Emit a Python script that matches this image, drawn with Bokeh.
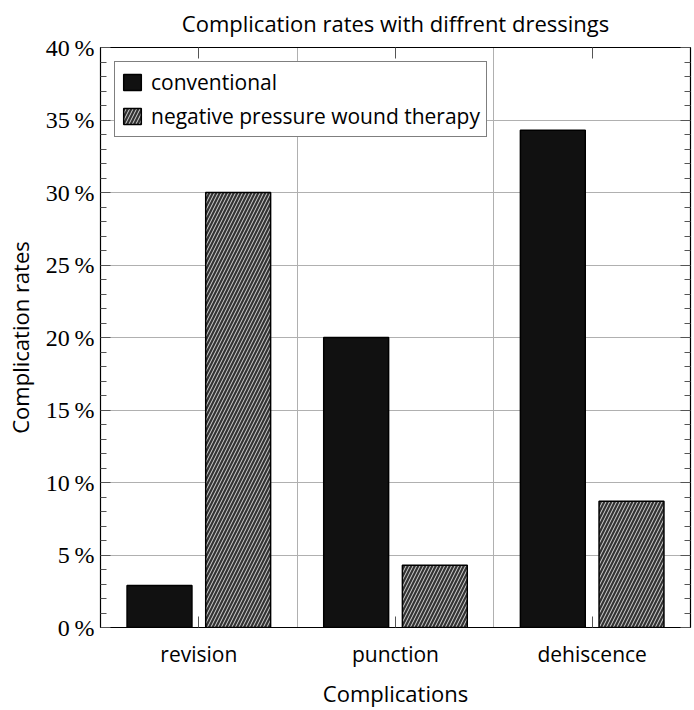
from bokeh.plotting import figure
from bokeh.models import (Range1d, FixedTicker, LinearAxis, Legend, LegendItem,
                          Grid, CustomJSTickFormatter)
from bokeh.embed import file_html
from bokeh.resources import INLINE

# ---- data ----
categories = ["revision", "punction", "dehiscence"]
conventional = [2.9, 20.0, 34.3]
npwt = [30.0, 4.3, 8.7]
series_names = ["conventional", "negative pressure wound therapy"]
y_ticks = [0, 5, 10, 15, 20, 25, 30, 35, 40]
y_tick_labels = ["0\u2009%", "5\u2009%", "10\u2009%", "15\u2009%", "20\u2009%",
                 "25\u2009%", "30\u2009%", "35\u2009%", "40\u2009%"]
title_text = "Complication rates with diffrent dressings"
x_label = "Complications"
y_label = "Complication rates"

SANS = "Open Sans"
SERIF = "Liberation Serif"

idx = list(range(len(categories)))
offset = 0.2
bar_w = 0.33
x_conv = [i - offset for i in idx]
x_npwt = [i + offset for i in idx]

p = figure(width=694, height=710, output_backend="svg", toolbar_location=None,
           x_range=Range1d(-0.5, 2.5), y_range=Range1d(0, 40),
           x_axis_location=None, y_axis_location=None)
p.min_border_left = 100
p.min_border_right = 4
p.min_border_top = 47
p.min_border_bottom = 71
p.outline_line_color = "black"
p.outline_line_width = 1.2

# grids
p.grid.visible = False
p.add_layout(Grid(dimension=1, ticker=FixedTicker(ticks=y_ticks[1:-1]),
                  grid_line_color="#b0b0b0", grid_line_width=1))
p.add_layout(Grid(dimension=0, ticker=FixedTicker(ticks=[0.5, 1.5]),
                  grid_line_color="#b0b0b0", grid_line_width=1))

# bars
r_conv = p.vbar(x=x_conv, top=conventional, width=bar_w, bottom=0,
                fill_color="#111111", line_color="black", line_width=1.5)
r_npwt_fill = p.vbar(x=x_npwt, top=npwt, width=bar_w, bottom=0,
                     fill_color="#333333", line_color=None)
r_npwt = p.vbar(x=x_npwt, top=npwt, width=bar_w, bottom=0,
                fill_alpha=0, line_color="black", line_width=1.5,
                hatch_pattern="/", hatch_color="white", hatch_weight=0.8,
                hatch_scale=7)

minor = [v for v in range(0, 41) if v % 5 != 0]
yt = FixedTicker(ticks=y_ticks, minor_ticks=minor)

left = LinearAxis(ticker=yt, axis_label=y_label)
left.major_label_overrides = {t: l for t, l in zip(y_ticks, y_tick_labels)}
right = LinearAxis(ticker=yt, formatter=CustomJSTickFormatter(code="return ''"))
for ax in (left, right):
    ax.major_tick_in = 10
    ax.major_tick_out = 0
    ax.minor_tick_in = 6
    ax.minor_tick_out = 0
    ax.axis_line_color = "black"
    ax.major_tick_line_color = "#555555"
    ax.minor_tick_line_color = "#555555"
left.major_label_text_font = SERIF
left.major_label_text_font_size = "24px"
left.major_label_text_color = "black"
left.major_label_standoff = 6
left.axis_label_text_font = SANS
left.axis_label_text_font_size = "22px"
left.axis_label_text_font_style = "normal"
left.axis_label_text_color = "black"
left.axis_label_standoff = 8
right.major_label_standoff = 0
p.add_layout(left, "left")
p.add_layout(right, "right")

xt = FixedTicker(ticks=idx, minor_ticks=[])
bottom = LinearAxis(ticker=xt, axis_label=x_label)
bottom.major_label_overrides = {i: c for i, c in zip(idx, categories)}
top = LinearAxis(ticker=xt, formatter=CustomJSTickFormatter(code="return ''"))
for ax in (bottom, top):
    ax.major_tick_in = 11
    ax.major_tick_out = 0
    ax.minor_tick_in = 0
    ax.minor_tick_out = 0
    ax.axis_line_color = "black"
    ax.major_tick_line_color = "#555555"
bottom.major_label_text_font = SANS
bottom.major_label_text_font_size = "21px"
bottom.major_label_text_color = "black"
bottom.major_label_standoff = 12
bottom.axis_label_text_font = SANS
bottom.axis_label_text_font_size = "22px"
bottom.axis_label_text_font_style = "normal"
bottom.axis_label_text_color = "black"
bottom.axis_label_standoff = 7
top.major_label_standoff = 0
p.add_layout(bottom, "below")
p.add_layout(top, "above")

p.title.text = title_text
p.title.text_font = SANS
p.title.text_font_size = "22px"
p.title.text_font_style = "normal"
p.title.text_color = "black"
p.title.text_line_height = 0.7
p.title.align = "center"
p.title.vertical_align = "top"
p.title.standoff = 15

legend = Legend(items=[LegendItem(label=series_names[0], renderers=[r_conv]),
                       LegendItem(label=series_names[1],
                                  renderers=[r_npwt_fill, r_npwt])],
                location="top_left")
legend.margin = 14
legend.padding = 6
legend.spacing = 6
legend.glyph_width = 22
legend.glyph_height = 20
legend.label_standoff = 8
legend.label_text_font = SANS
legend.label_text_font_size = "21px"
legend.label_text_color = "black"
legend.border_line_color = "black"
legend.border_line_width = 1.2
legend.background_fill_alpha = 1
p.add_layout(legend)

open("out.html", "w").write(file_html(p, INLINE))
